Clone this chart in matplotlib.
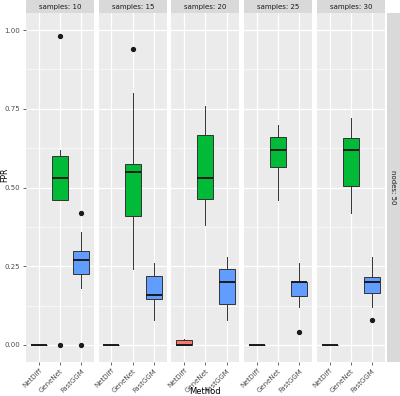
import numpy as np
import matplotlib
matplotlib.use('Agg')
import matplotlib.pyplot as plt
from matplotlib.patches import Rectangle

methods = ['NetDiff', 'GeneNet', 'FastGGM']
samples = [10, 15, 20, 25, 30]
colors = ['#F8766D', '#00BA38', '#619CFF']

# box stats per sample: [whislo, q1, med, q3, whishi]
netdiff_stats = [[0, 0, 0, 0, 0], [0, 0, 0, 0, 0], [0, 0, 0.0, 0.015, 0.02], [0, 0, 0, 0, 0], [0, 0, 0, 0, 0]]
netdiff_fliers = [[], [], [], [], []]
genenet_stats = [[0.46, 0.46, 0.53, 0.60, 0.62], [0.24, 0.41, 0.55, 0.576, 0.80], [0.38, 0.465, 0.53, 0.668, 0.76],
                 [0.46, 0.565, 0.62, 0.66, 0.70], [0.42, 0.506, 0.62, 0.658, 0.72]]
genenet_fliers = [[0.98, 0.0], [0.94], [], [], []]
fastggm_stats = [[0.18, 0.225, 0.27, 0.297, 0.36], [0.08, 0.145, 0.16, 0.22, 0.26], [0.08, 0.13, 0.20, 0.24, 0.28],
                 [0.12, 0.155, 0.20, 0.20, 0.26], [0.12, 0.165, 0.20, 0.215, 0.28]]
fastggm_fliers = [[0.42, 0.0], [], [], [0.04], [0.08]]

all_stats = [netdiff_stats, genenet_stats, fastggm_stats]
all_fliers = [netdiff_fliers, genenet_fliers, fastggm_fliers]

W, H = 400, 396
fig = plt.figure(figsize=(W / 100, H / 100), dpi=100)

panel_left = [26, 98.7, 171.4, 244.1, 316.8]
panel_w = 68
top_px, bot_px = 13, 362
edge = '#333333'

for i, s in enumerate(samples):
    ax = fig.add_axes([panel_left[i] / W, 1 - bot_px / H, panel_w / W, (bot_px - top_px) / H])
    ax.set_facecolor('#EBEBEB')
    ax.set_xlim(0.4, 3.6)
    ax.set_ylim(-0.054, 1.054)
    ax.set_yticks([0, 0.25, 0.5, 0.75, 1.0])
    ax.set_yticks([0.125, 0.375, 0.625, 0.875], minor=True)
    ax.grid(True, which='major', color='white', linewidth=0.9)
    ax.grid(True, which='minor', axis='y', color='white', linewidth=0.45)
    ax.set_axisbelow(True)
    for sp in ax.spines.values():
        sp.set_visible(False)
    ax.tick_params(which='minor', length=0)
    ax.tick_params(which='major', length=2.5, width=0.6, color='#4D4D4D', labelsize=5, labelcolor='#4D4D4D', pad=1.5)
    if i == 0:
        ax.set_yticklabels(['0.00', '0.25', '0.50', '0.75', '1.00'])
    else:
        ax.tick_params(axis='y', which='major', length=0, labelleft=False)

    bstats = []
    for m in range(3):
        lo, q1, med, q3, hi = all_stats[m][i]
        bstats.append(dict(whislo=lo, q1=q1, med=med, q3=q3, whishi=hi, fliers=all_fliers[m][i]))
    bp = ax.bxp(bstats, positions=[1, 2, 3], widths=0.75, patch_artist=True, showcaps=False,
                boxprops=dict(edgecolor=edge, linewidth=0.7),
                whiskerprops=dict(color=edge, linewidth=0.7),
                medianprops=dict(color='#1A1A1A', linewidth=1.4),
                flierprops=dict(marker='o', markersize=2.8, markerfacecolor='#1A1A1A', markeredgecolor='#1A1A1A'))
    for patch, c in zip(bp['boxes'], colors):
        patch.set_facecolor(c)
    ax.set_xticks([1, 2, 3])
    ax.set_xticklabels(methods, rotation=45, ha='right', rotation_mode='anchor')

    # facet strip on top
    fig.add_artist(Rectangle((panel_left[i] / W, 1 - top_px / H), panel_w / W, 16 / H,
                             transform=fig.transFigure, facecolor='#D9D9D9', edgecolor='none'))
    fig.text((panel_left[i] + panel_w / 2) / W, 1 - 6.5 / H, 'samples: %d' % s,
             ha='center', va='center', fontsize=5, color='#1A1A1A')

# right strip
fig.add_artist(Rectangle((386.5 / W, 1 - bot_px / H), 14 / W, (bot_px - top_px) / H,
                         transform=fig.transFigure, facecolor='#D9D9D9', edgecolor='none'))
fig.text(393 / W, 1 - ((top_px + bot_px) / 2) / H, 'nodes: 50', rotation=-90,
         ha='center', va='center', fontsize=5, color='#1A1A1A')

fig.text(0.5 / W, 1 - 175 / H, 'FPR', rotation=90, ha='left', va='center',
         fontsize=5.5, color='black')
fig.text(205 / W, 0.5 / H, 'Method', ha='center', va='bottom', fontsize=6, color='black')

fig.savefig('out.png', dpi=100)
